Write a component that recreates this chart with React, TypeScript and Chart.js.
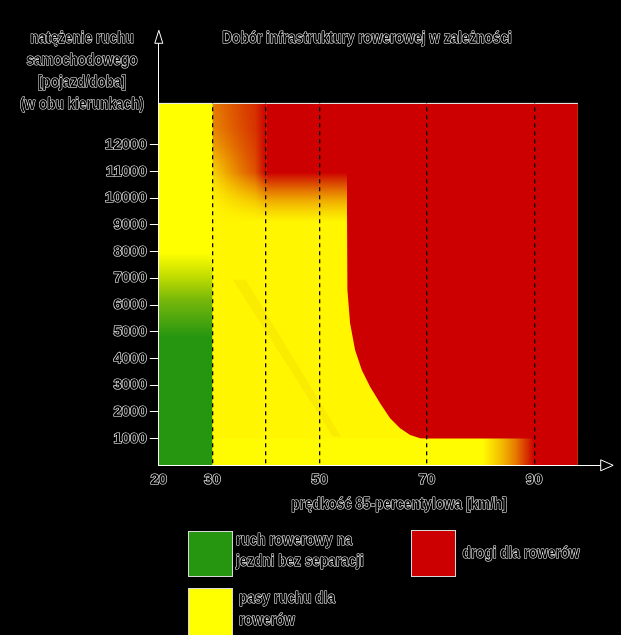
import React, { useEffect, useRef } from 'react';
import { Chart, registerables } from 'chart.js';
Chart.register(...registerables);

// ---------- axes ----------
const X_MIN = 20;
const X_AXIS_END = 102.4;
const X_PLOT_END = 98.15;
const Y_MIN = 0;
const Y_AXIS_END = 15800;
const Y_PLOT_TOP = 13550;

const xTickLabels = [20, 30, 50, 70, 90];
const xDashedLines = [30, 40, 50, 70, 90];
const yTickValues = [1000, 2000, 3000, 4000, 5000, 6000, 7000, 8000, 9000, 10000, 11000, 12000];

// ---------- regions (km/h, vehicles/day) ----------
// green column: mixed traffic
const greenX = [20, 30];
const greenTop = 7950;
const greenFadeY = [4800, 6200, 7100, 7950]; // green -> yellow
// bottom strip below 1000 veh/day
const bottomStripX = [30, 80.5];
const bottomStripY = 1000;
// diagonal streak in the yellow zone
const streakX = [33.8, 36.2, 54, 52.5, 33.8];
const streakY = [6950, 6950, 1070, 1070, 6950];
// blur zone 30-40 at high traffic (left-edge profile, share of red)
const blendX = [30, 40];
const blendBottom = 9100;
const blendLeftY = [13550, 12624, 11987, 11364, 10754, 10117, 9555, 9100];
const blendLeftR = [0.5, 0.45, 0.35, 0.22, 0.1, 0.03, 0, 0];
const blendWeightX = [30, 35, 38, 40];
const blendWeight = [0, 0.4, 0.62, 1];
// band 40-55 at high traffic (share of red)
const bandX = [40, 55.4];
const bandBottom = 9100;
const bandY = [13550, 10967, 10615, 10241, 9866, 9492, 9118];
const bandR = [1, 1, 0.75, 0.5, 0.28, 0.12, 0];
// separated cycle tracks boundary curve
const curveX = [55.06, 55.06, 55.17, 55.67, 56.6, 57.85, 59.4, 61.27, 63.13, 65.0, 66.87, 68.73, 70, 98.15];
const curveY = [13550, 10928, 6561, 5314, 4315, 3567, 2942, 2320, 1759, 1385, 1134, 1010, 1000, 1000];
// bottom-right fade below 1000
const fadeX = [80.5, 98.15];
const fadeY = 1040;
const fadeStopX = [80.5, 84, 86.5, 90];
const fadeStopR = [0, 0.25, 0.5, 1];

// ---------- legend ----------
const legendLabels = [
  ['ruch rowerowy na', 'jezdni bez separacji'],
  ['drogi dla rowerów'],
  ['pasy ruchu dla', 'rowerów'],
];
const yTitleLines = ['natężenie ruchu', 'samochodowego', '[pojazd/doba]', '(w obu kierunkach)'];
const chartTitle = 'Dobór infrastruktury rowerowej w zależności';
const xTitle = 'prędkość 85-percentylowa [km/h]';

const YELLOW = [255, 246, 0];
const RED = [204, 0, 0];
const GREEN = 'rgb(38,150,16)';
const FONT = "'Liberation Sans', Arial, sans-serif";

function mix(r: number) {
  const c = YELLOW.map((v, i) => Math.round(v + (RED[i] - v) * r));
  return `rgb(${c[0]},${c[1]},${c[2]})`;
}

function vGrad(ctx: CanvasRenderingContext2D, ys: any, yVals: number[], rs: number[]) {
  const p0 = ys.getPixelForValue(yVals[0]);
  const p1 = ys.getPixelForValue(yVals[yVals.length - 1]);
  const g = ctx.createLinearGradient(0, p0, 0, p1);
  yVals.forEach((v, i) => {
    const t = (ys.getPixelForValue(v) - p0) / (p1 - p0);
    g.addColorStop(Math.min(1, Math.max(0, t)), mix(rs[i]));
  });
  return g;
}

const pts = (xs: number[], ys: number[]) => xs.map((x, i) => ({ x, y: ys[i] }));

export default function App() {
  const ref = useRef<HTMLCanvasElement>(null);
  useEffect(() => {
    document.body.style.margin = '0';
    document.body.style.background = '#000';
    const canvas = ref.current!;

    const base = {
      type: 'line' as const,
      pointRadius: 0,
      borderWidth: 0,
      borderColor: 'transparent',
      tension: 0,
    };

    const datasets: any[] = [
      // base yellow
      { ...base, data: pts([X_MIN, X_PLOT_END], [Y_PLOT_TOP, Y_PLOT_TOP]), fill: 'start', backgroundColor: mix(0) },
      // left column bright yellow
      { ...base, data: pts(greenX, [Y_PLOT_TOP, Y_PLOT_TOP]), fill: 'start', backgroundColor: '#ffff00' },
      // bottom strip
      { ...base, data: pts(bottomStripX, [bottomStripY, bottomStripY]), fill: 'start', backgroundColor: '#fffb00' },
      // streak
      { ...base, data: pts(streakX, streakY), fill: 'shape', backgroundColor: 'rgba(230,200,0,0.22)' },
      // green column
      {
        ...base, data: pts(greenX, [greenTop, greenTop]), fill: 'start',
        backgroundColor: (c: any) => {
          const ch = c.chart; if (!ch.chartArea) return GREEN;
          const ys = ch.scales.y;
          const p0 = ys.getPixelForValue(greenFadeY[0]);
          const p1 = ys.getPixelForValue(greenFadeY[3]);
          const g = ch.ctx.createLinearGradient(0, p0, 0, p1);
          const cols = [GREEN, 'rgb(120,184,10)', 'rgb(196,222,0)', 'rgb(255,255,0)'];
          greenFadeY.forEach((v, i) => g.addColorStop((ys.getPixelForValue(v) - p0) / (p1 - p0), cols[i]));
          return g;
        },
      },
      // blend zone 30-40
      {
        ...base, data: pts(blendX, [Y_PLOT_TOP, Y_PLOT_TOP]), fill: { value: blendBottom },
        backgroundColor: (c: any) => {
          const ch = c.chart; if (!ch.chartArea) return mix(0.5);
          const xs = ch.scales.x, ys = ch.scales.y;
          const W = ch.width, H = ch.height;
          const x0 = xs.getPixelForValue(blendX[0]), x1 = xs.getPixelForValue(blendX[1]);
          const yT = ys.getPixelForValue(Y_PLOT_TOP), yB = ys.getPixelForValue(blendBottom);
          const a = document.createElement('canvas'); a.width = W; a.height = H;
          const ac = a.getContext('2d')!;
          ac.fillStyle = vGrad(ac, ys, blendLeftY, blendLeftR);
          ac.fillRect(x0 - 1, yT - 1, x1 - x0 + 2, yB - yT + 2);
          const b = document.createElement('canvas'); b.width = W; b.height = H;
          const bc = b.getContext('2d')!;
          bc.fillStyle = vGrad(bc, ys, bandY, bandR);
          bc.fillRect(x0 - 1, yT - 1, x1 - x0 + 2, yB - yT + 2);
          bc.globalCompositeOperation = 'destination-in';
          const hg = bc.createLinearGradient(x0, 0, x1, 0);
          blendWeightX.forEach((v, i) => hg.addColorStop((xs.getPixelForValue(v) - x0) / (x1 - x0), `rgba(0,0,0,${blendWeight[i]})`));
          bc.fillStyle = hg;
          bc.fillRect(0, 0, W, H);
          ac.drawImage(b, 0, 0);
          return ch.ctx.createPattern(a, 'no-repeat');
        },
      },
      // band 40-55
      {
        ...base, data: pts(bandX, [Y_PLOT_TOP, Y_PLOT_TOP]), fill: { value: bandBottom },
        backgroundColor: (c: any) => {
          const ch = c.chart; if (!ch.chartArea) return mix(1);
          return vGrad(ch.ctx, ch.scales.y, bandY, bandR);
        },
      },
      // bottom-right fade
      {
        ...base, data: pts(fadeX, [fadeY, fadeY]), fill: 'start',
        backgroundColor: (c: any) => {
          const ch = c.chart; if (!ch.chartArea) return mix(1);
          const xs = ch.scales.x;
          const p0 = xs.getPixelForValue(fadeStopX[0]);
          const p1 = xs.getPixelForValue(fadeStopX[fadeStopX.length - 1]);
          const g = ch.ctx.createLinearGradient(p0, 0, p1, 0);
          fadeStopX.forEach((v, i) => g.addColorStop((xs.getPixelForValue(v) - p0) / (p1 - p0), i === 0 ? '#fffb00' : mix(fadeStopR[i])));
          return g;
        },
      },
      // main red area
      { ...base, data: pts(curveX, curveY), fill: { value: Y_PLOT_TOP }, backgroundColor: mix(1) },
      // top frame line
      { ...base, data: pts([X_MIN, X_PLOT_END], [Y_PLOT_TOP, Y_PLOT_TOP]), fill: false, borderWidth: 1, borderColor: '#f2f2f2' },
    ];
    datasets.forEach((d, i) => { d.order = 100 - i; });

    const outlined = (ctx: CanvasRenderingContext2D, text: string, x: number, y: number, align: CanvasTextAlign, size = 17, sx = 0.8) => {
      ctx.save();
      ctx.translate(x, y);
      ctx.scale(sx, 1);
      ctx.font = `bold ${size}px ${FONT}`;
      ctx.textAlign = align;
      ctx.textBaseline = 'middle';
      ctx.lineJoin = 'round';
      ctx.lineWidth = 1.2;
      ctx.strokeStyle = '#ffffff';
      ctx.strokeText(text, 0, 0);
      ctx.fillStyle = '#000000';
      ctx.fillText(text, 0, 0);
      ctx.restore();
    };

    const decor = {
      id: 'decor',
      beforeDraw(chart: any) {
        const ctx = chart.ctx;
        ctx.save();
        ctx.fillStyle = '#000';
        ctx.fillRect(0, 0, chart.width, chart.height);
        ctx.restore();
      },
      afterDraw(chart: any) {
        const ctx: CanvasRenderingContext2D = chart.ctx;
        const { left, right, top, bottom } = chart.chartArea;
        ctx.save();
        ctx.strokeStyle = '#fff';
        ctx.fillStyle = '#000';
        ctx.lineWidth = 1;
        // x arrow
        ctx.beginPath();
        ctx.moveTo(right, bottom - 5.5);
        ctx.lineTo(right + 12.5, bottom);
        ctx.lineTo(right, bottom + 5.5);
        ctx.closePath();
        ctx.fill(); ctx.stroke();
        // y arrow
        ctx.beginPath();
        ctx.moveTo(left - 4, top);
        ctx.lineTo(left, top - 13);
        ctx.lineTo(left + 4, top);
        ctx.closePath();
        ctx.fill(); ctx.stroke();
        ctx.restore();

        // titles
        const yCenters = [38.5, 60.5, 82.5, 104.5];
        yTitleLines.forEach((t, i) => outlined(ctx, t, 82, yCenters[i], 'center'));
        outlined(ctx, chartTitle, 367, 38.5, 'center');
        outlined(ctx, xTitle, 399, 504, 'center');

        // legend
        const boxes = [
          { x: 188.5, y: 531.5, w: 44, h: 45, c: GREEN },
          { x: 411.5, y: 530.5, w: 44, h: 46, c: mix(1) },
          { x: 188.5, y: 588.5, w: 44, h: 50, c: '#ffff00' },
        ];
        const textPos = [
          { x: 236, ys: [540.5, 561.5] },
          { x: 462.5, ys: [553] },
          { x: 239, ys: [598, 620] },
        ];
        boxes.forEach((b, i) => {
          ctx.save();
          ctx.fillStyle = b.c;
          ctx.fillRect(b.x, b.y, b.w, b.h);
          ctx.strokeStyle = '#d8d8d8';
          ctx.lineWidth = 1;
          ctx.strokeRect(b.x, b.y, b.w, b.h);
          ctx.restore();
          legendLabels[i].forEach((t, j) => outlined(ctx, t, textPos[i].x, textPos[i].ys[j], 'left'));
        });
      },
    };

    const tickFont = { family: FONT, size: 15, weight: 'bold' as const };

    const chart = new Chart(canvas, {
      type: 'line',
      data: { datasets },
      options: {
        animation: false,
        responsive: false,
        events: [],
        layout: { padding: { left: 0, top: 43.3, right: 20.3, bottom: 0 } },
        plugins: { legend: { display: false }, tooltip: { enabled: false }, title: { display: false } },
        scales: {
          x: {
            type: 'linear',
            min: X_MIN,
            max: X_AXIS_END,
            afterBuildTicks: (s: any) => {
              const vals = Array.from(new Set([...xTickLabels, ...xDashedLines])).sort((a, b) => a - b);
              s.ticks = vals.map((v) => ({ value: v }));
            },
            afterFit: (s: any) => { s.height = 635 - 465.3; },
            ticks: {
              z: 2,
              autoSkip: false,
              maxRotation: 0,
              padding: 6,
              font: tickFont,
              color: '#000',
              textStrokeColor: '#fff',
              textStrokeWidth: 1.2,
              callback: (v: any) => (xTickLabels.includes(Number(v)) ? String(v) : ''),
            },
            grid: {
              z: 1,
              drawTicks: false,
              lineWidth: 1.3,
              color: (c: any) => (c.tick && xDashedLines.includes(c.tick.value) ? '#000000' : 'transparent'),
            },
            border: { z: 2, display: true, color: '#fff', width: 1, dash: [4, 4] },
          },
          y: {
            type: 'linear',
            min: Y_MIN,
            max: Y_AXIS_END,
            afterBuildTicks: (s: any) => { s.ticks = yTickValues.map((v) => ({ value: v })); },
            afterFit: (s: any) => { s.width = 158.8; },
            ticks: {
              z: 2,
              autoSkip: false,
              padding: 3,
              font: tickFont,
              color: '#000',
              textStrokeColor: '#fff',
              textStrokeWidth: 1.2,
              callback: (v: any) => String(v),
            },
            grid: { z: 1, drawOnChartArea: false, drawTicks: true, tickLength: 9, tickColor: '#fff', tickWidth: 1 },
            border: { z: 2, display: true, color: '#fff', width: 1 },
          },
        },
      },
      plugins: [decor],
    } as any);
    return () => chart.destroy();
  }, []);

  return (
    <div style={{ width: 621, height: 635, background: '#000' }}>
      <canvas ref={ref} width={621} height={635} style={{ display: 'block' }} />
    </div>
  );
}
